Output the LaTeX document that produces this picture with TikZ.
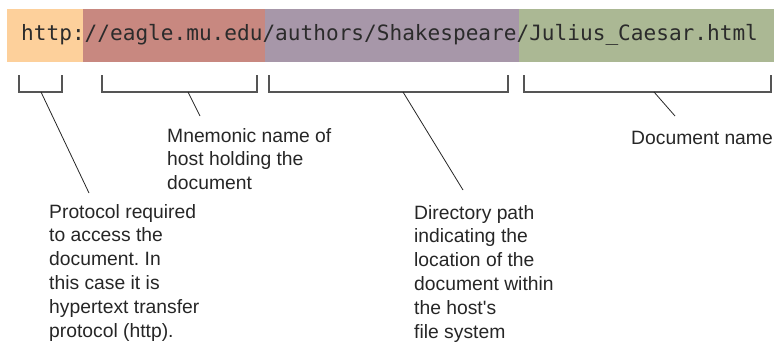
\documentclass[tikz,border=0pt]{standalone}
\usepackage{fontspec}
\setmainfont{Liberation Sans}
\newfontfamily\urlfont{DejaVu Sans Mono}
\newcommand{\straightquote}{\XeTeXglyph\XeTeXglyphindex"quotesingle"\relax}
\definecolor{cOrange}{HTML}{FDD09B}
\definecolor{cRed}{HTML}{C88880}
\definecolor{cPurple}{HTML}{A797A9}
\definecolor{cGreen}{HTML}{ABB894}
\definecolor{urltext}{HTML}{2B2B2B}
\definecolor{lbltext}{HTML}{262626}
\definecolor{brk}{HTML}{555555}
\frenchspacing
\begin{document}
\begin{tikzpicture}[x=1pt,y=-1pt,
  bar/.style={draw=none, inner sep=0, anchor=north west, minimum height=53pt},
  bracket/.style={draw=brk, line width=1.4pt},
  conn/.style={draw=black!85, line width=0.8pt},
  lbl/.style={anchor=base west, align=left, inner sep=0, text=lbltext,
    font=\fontsize{19.3}{23.8}\selectfont}]
\useasboundingbox (0,0) rectangle (776,341);
% colored bars
\node[bar, fill=cOrange, minimum width=76pt] (proto) at (7,9) {};
\node[bar, fill=cRed, minimum width=182pt] (host) at (83,9) {};
\node[bar, fill=cPurple, minimum width=254pt] (path) at (265,9) {};
\node[bar, fill=cGreen, minimum width=255pt] (doc) at (519,9) {};
% URL
\node[anchor=base west, inner sep=0, text=urltext,
  font=\urlfont\fontsize{21.1}{24}\selectfont] (url) at (21,40)
  {http://eagle.mu.edu/authors/Shakespeare/Julius\_Caesar.html};
% brackets
\draw[bracket] (19,75) -- (19,92) -- (62,92) -- (62,75);
\draw[bracket] (102,75) -- (102,92) -- (257,92) -- (257,75);
\draw[bracket] (269,75) -- (269,92) -- (508,92) -- (508,75);
\draw[bracket] (524,75) -- (524,92) -- (771,92) -- (771,75);
% labels (base anchor = baseline of the last line)
\node[lbl] (lproto) at (49,337) {Protocol required\\to access the\\document. In\\this case it is\\hypertext transfer\\protocol (http).};
\node[lbl] (lhost) at (167,189.6) {Mnemonic name of\\host holding the\\document};
\node[lbl] (lpath) at (414,338) {Directory path\\indicating the\\location of the\\document within\\the host\straightquote s\\file system};
\node[lbl, anchor=base east] (ldoc) at (773,144) {Document name};
% connector end points
\coordinate (b1) at (41,92);
\coordinate (b2) at (188,92);
\coordinate (b3) at (403,92);
\coordinate (b4) at (654,92);
\coordinate (e1) at (89,193);
\coordinate (e2) at (200,116);
\coordinate (e3) at (463,190);
\coordinate (e4) at (675,116);
\draw[conn] (b1) -- (e1);
\draw[conn] (b2) -- (e2);
\draw[conn] (b3) -- (e3);
\draw[conn] (b4) -- (e4);
\end{tikzpicture}
\end{document}
